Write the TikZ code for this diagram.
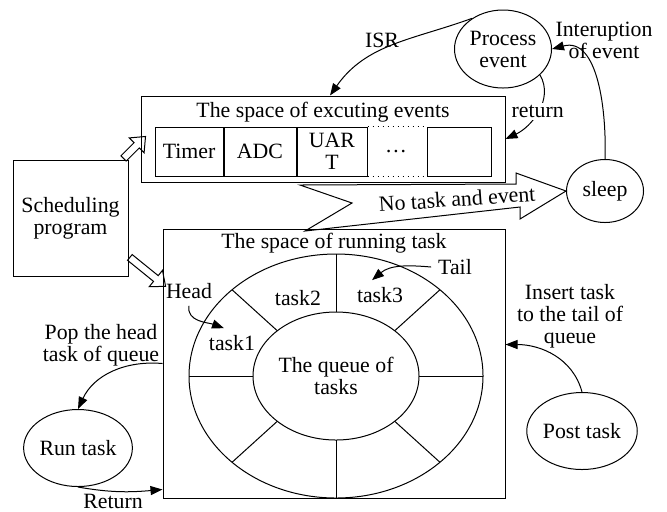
\documentclass[tikz,border=0pt]{standalone}
\usepackage{fontspec}
\setmainfont{Liberation Serif}
\usetikzlibrary{positioning,calc,arrows.meta,shapes.geometric,shapes.arrows}

\tikzset{
  box/.style={draw=black, rectangle, inner sep=0pt, align=center},
  cell/.style={box, minimum height=24.5pt},
  state/.style={draw=black, ellipse, inner sep=0pt, align=center},
  flow/.style={draw=black, -{Triangle[length=6pt,width=4.5pt]}},
  hollow/.style={draw=black, single arrow, inner sep=1.6pt, single arrow head extend=3.4pt,
    single arrow tip angle=80, minimum height=#1},
}

\begin{document}
\begin{tikzpicture}[x=0.5pt, y=-0.5pt, line width=0.5pt, font=\fontsize{10.9}{11}\selectfont]
  \useasboundingbox (0,0) rectangle (667,511);
  % space of executing events
  \node[box, minimum width=182pt, minimum height=43pt] (events) at (323,139) {};
  \node (evtitle) at (323,112) {The space of excuting events};
  \node[cell, minimum width=34pt] (timer) at (189,151.5) {Timer};
  \node[cell, minimum width=36pt, right=0pt of timer] (adc) {ADC};
  \node[cell, minimum width=35pt, right=0pt of adc] (uart) {UAR\\T};
  \node[cell, minimum width=32pt] (last) at (459,151.5) {};
  \node (dots) at (396,151.5) {\dots};
  \draw [dotted] (uart.north east) -- (last.north west);
  \draw [dotted] (uart.south east) -- (last.south west);

  % scheduler
  \node[box, minimum width=57.5pt, minimum height=58pt] (sched) at (70.5,218) {Scheduling\\program};
  \node[hollow=15.5pt, rotate=45] (toevents) at (133,149) {};
  \node[hollow=23pt, rotate=-39] (torun) at (146,270.5) {};

  % space of running task
  \node[box, minimum width=171pt, minimum height=134.5pt] (running) at (334,363.5) {};
  \node (runtitle) at (334,243) {The space of running task};
  \node[state, minimum width=147pt, minimum height=122pt] (ring) at (336,376) {};
  \node[state, minimum width=83pt, minimum height=64pt] (queue) at (336,376) {The queue of\\tasks};
  \foreach \a in {0,45,...,315}
    \draw ($(ring.center)+(\a:147 and 122)$) -- ($(queue.center)+(\a:83 and 64)$);
  \node (task1) at (232,343) {task1};
  \node (task2) at (298,298) {task2};
  \node (task3) at (380,295) {task3};
  \node (head) at (189,291) {Head};
  \node (tail) at (455,267) {Tail};
  \draw[flow] (head.south) to[out=-100, in=160] ([xshift=-4pt]task1.north);
  \draw[flow] (tail.west) to[out=175, in=40] ([xshift=-4pt]task3.north);

  % run task
  \node[align=center] (poplabel) at (101,345) {Pop the head\\task of queue};
  \node[state, minimum width=46pt, minimum height=38.5pt] (runtask) at (78,448) {Run task};
  \draw[flow] (running.west) to[out=175, in=65] (runtask.north);
  \draw[flow] (runtask.south) to[out=-10, in=185] ([yshift=4.5pt]running.south west);
  \node (retlabel) at (113,501) {Return};

  % post task
  \node[state, minimum width=47.5pt, minimum height=38.5pt] (posttask) at (582,431) {Post task};
  \draw[flow] (posttask.north) to[out=105, in=0] ([yshift=9.5pt]running.east);
  \node[align=center] (inslabel) at (570,316) {Insert task\\to the tail of\\queue};

  % events and sleep
  \node[state, minimum width=48.5pt, minimum height=39pt] (procev) at (503,49) {Process\\event};
  \node[state, minimum width=38.5pt, minimum height=31.5pt] (sleep) at (605,191) {sleep};
  \draw[flow] (procev.135) to[out=200, in=55] ([xshift=3.5pt]events.north);
  \node (isr) at (382,40) {ISR};
  \draw[flow] (sleep.north) to[out=88, in=15] (procev.east);
  \node[align=center] (intlabel) at (604,40) {Interuption\\of event};
  \draw[flow] (procev.-35) to[out=-60, in=25] node[fill=white, inner sep=1pt] {return} (events.east);

  % no task and event
  \coordinate (nA) at (300,185);
  \coordinate (nN) at (352,203);
  \coordinate (nT) at (305,231);
  \coordinate (nL1) at (520,207);
  \coordinate (nL2) at (520,219);
  \coordinate (nU2) at (516,173);
  \coordinate (nU1) at (516,184);
  \draw (nA) -- (nN) -- (nT) -- (nL1) -- (nL2) -- (sleep.west) -- (nU2) -- (nU1) -- cycle;
  \node[rotate=4] (idle) at (457,199) {No task and event};
\end{tikzpicture}
\end{document}
